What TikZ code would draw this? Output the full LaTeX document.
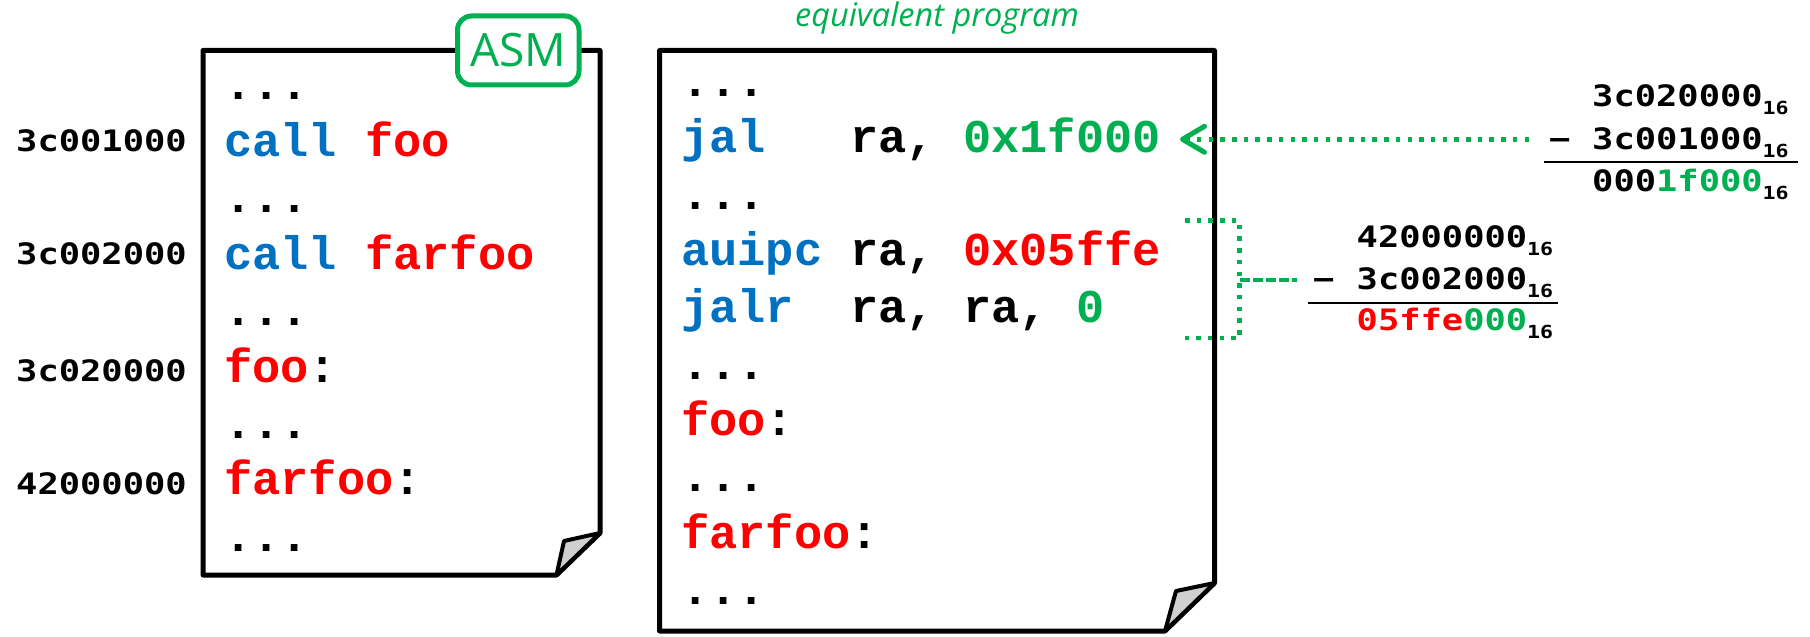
\documentclass[tikz,border=0pt]{standalone}
\usepackage{fontspec}
\usetikzlibrary{arrows.meta}

\newfontfamily\codefont{Liberation Mono}
\newfontfamily\numfont{DejaVu Sans Mono}[FakeStretch=1.2]
\newfontfamily\labelfont{Open Sans}

\definecolor{codeblue}{HTML}{0070C0}
\definecolor{codered}{HTML}{FF0000}
\definecolor{codegreen}{HTML}{00B050}
\definecolor{foldgray}{HTML}{D0D0D0}

% base-16 subscript after a hex number
\newcommand\hexsub{\raisebox{-8bp}{\fontsize{18bp}{20bp}\selectfont 16}}

\tikzset{
  page/.style={draw=black, line width=5bp, line join=round, fill=white},
  fold/.style={draw=black, line width=4bp, line join=round, fill=foldgray},
  codeline/.style={anchor=base west, inner sep=0pt,
    font=\codefont\bfseries\fontsize{47bp}{56bp}\selectfont},
  numrow/.style={anchor=base west, inner sep=0pt,
    font=\numfont\bfseries\fontsize{29.5bp}{34bp}\selectfont},
  sumrule/.style={draw=black, line width=2bp},
  dotgreen/.style={draw=codegreen, line width=4.5bp, dash pattern=on 4.5bp off 7.2bp},
  asmtag/.style={draw=codegreen, line width=5bp, rounded corners=14bp, fill=white,
    minimum width=121.5bp, minimum height=69bp, inner sep=0pt, text=codegreen,
    font=\labelfont\fontsize{46bp}{50bp}\selectfont},
  titletext/.style={anchor=base, inner sep=0pt, text=codegreen,
    font=\labelfont\itshape\fontsize{32.5bp}{36bp}\selectfont},
}

\begin{document}
\begin{tikzpicture}[x=1bp, y=-1bp]
\useasboundingbox (0,0) rectangle (1810,637);

% ---- left page: the assembly source ----
\draw[page] (203,50.5) -- (600,50.5) -- (600,533) -- (556.5,575) -- (203,575) -- cycle;
\draw[fold] (600,533) -- (564,541) -- (556.5,575) -- cycle;
\node[asmtag] (asm) at (518.25,50.5) {ASM};

\node[codeline] (L0) at (224,100)   {...};
\node[codeline] (L1) at (224,156.4) {\textcolor{codeblue}{call}~\textcolor{codered}{foo}};
\node[codeline] (L2) at (224,212.8) {...};
\node[codeline] (L3) at (224,269.2) {\textcolor{codeblue}{call}~\textcolor{codered}{farfoo}};
\node[codeline] (L4) at (224,325.6) {...};
\node[codeline] (L5) at (224,382)   {\textcolor{codered}{foo}:};
\node[codeline] (L6) at (224,438.4) {...};
\node[codeline] (L7) at (224,494.8) {\textcolor{codered}{farfoo}:};
\node[codeline] (L8) at (224,551.2) {...};

% addresses
\node[numrow] (A1) at (16,152) {3c001000};
\node[numrow] (A2) at (16,265) {3c002000};
\node[numrow] (A3) at (16,381) {3c020000};
\node[numrow] (A4) at (16,494) {42000000};

% ---- right page: the expanded program ----
\node[titletext] (title) at (937,27) {equivalent program};
\draw[page] (659.5,50.5) -- (1214.5,50.5) -- (1214.5,583) -- (1165,631) -- (659.5,631) -- cycle;
\draw[fold] (1214.5,583) -- (1176,591) -- (1165,631) -- cycle;

\node[codeline] (R0) at (681,97)    {...};
\node[codeline] (R1) at (681,152.4) {\textcolor{codeblue}{jal}~~~ra,~\textcolor{codegreen}{0x1f000}};
\node[codeline] (R2) at (681,209.8) {...};
\node[codeline] (R3) at (681,265.6) {\textcolor{codeblue}{auipc}~ra,~\textcolor{codered}{0x05ffe}};
\node[codeline] (R4) at (681,322) {\textcolor{codeblue}{jalr}~~ra,~ra,~\textcolor{codegreen}{0}};
\node[codeline] (R5) at (681,379)   {...};
\node[codeline] (R6) at (681,435.4) {\textcolor{codered}{foo}:};
\node[codeline] (R7) at (681,491.8) {...};
\node[codeline] (R8) at (681,548.2) {\textcolor{codered}{farfoo}:};
\node[codeline] (R9) at (681,604.6) {...};

% ---- offset for the near call ----
\node[numrow] (T1) at (1592,107)   {3c020000\hexsub};
\node[numrow] (Tm) at (1549,150)   {−};
\node[numrow] (T2) at (1592,150)   {3c001000\hexsub};
\node[numrow] (T3) at (1592,191.7) {000\textcolor{codegreen}{1f000}\hexsub};
\coordinate (T rule a) at (1544,162.3);
\coordinate (T rule b) at (1798,162.3);
\draw[sumrule] (T rule a) -- (T rule b);

% ---- offset for the far call ----
\node[numrow] (B1) at (1356.5,247.3) {42000000\hexsub};
\node[numrow] (Bm) at (1313,289.3)   {−};
\node[numrow] (B2) at (1356.5,289.3) {3c002000\hexsub};
\node[numrow] (B3) at (1356.5,330.7) {\textcolor{codered}{05ffe}\textcolor{codegreen}{000}\hexsub};
\coordinate (B rule a) at (1308,303.3);
\coordinate (B rule b) at (1558,303.3);
\draw[sumrule] (B rule a) -- (B rule b);

% ---- connectors ----
\coordinate (arrow start) at (1529,139.3);
\coordinate (arrow tip) at (1180,139.3);
\draw[dotgreen, -{Straight Barb[length=22bp, width=26bp, line width=5bp, round]}]
  (arrow start) -- (arrow tip);

\coordinate (br top) at (1185,220.7);
\coordinate (br top r) at (1239.5,220.7);
\coordinate (br bot r) at (1239.5,338);
\coordinate (br bot) at (1180.7,338);
\coordinate (br mid) at (1239.5,280);
\coordinate (br stub) at (1296.7,280);
\draw[dotgreen] (br top) -- (br top r) -- (br bot r) -- (br bot);
\draw[dotgreen, dash pattern=on 10bp off 3bp] (br mid) -- (br stub);
\end{tikzpicture}
\end{document}
